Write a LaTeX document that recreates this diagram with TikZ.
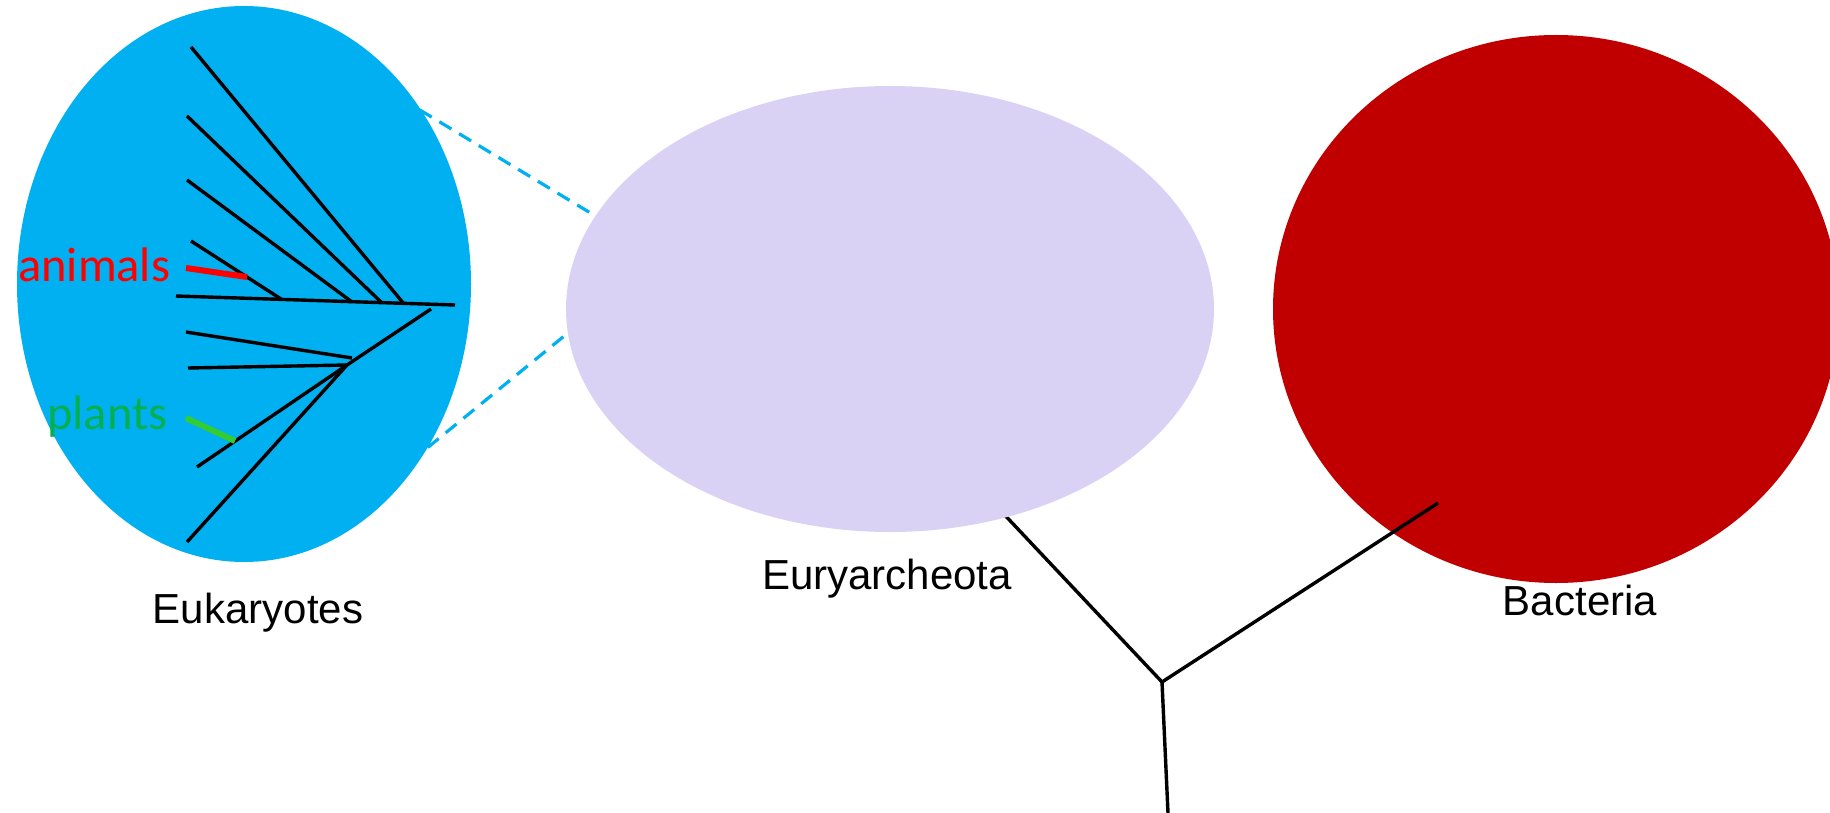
\documentclass[tikz,border=0pt]{standalone}
\usepackage{fontspec}
\setmainfont{Liberation Sans}
\newfontfamily\labelfont{Carlito}
\usetikzlibrary{shapes.geometric}

\definecolor{eukblue}{RGB}{0,176,240}
\definecolor{archlilac}{RGB}{217,210,245}
\definecolor{bactred}{RGB}{192,0,0}
\definecolor{animalred}{RGB}{255,0,0}
\definecolor{plantgreen}{RGB}{0,176,80}
\definecolor{plantline}{RGB}{51,204,51}

\tikzset{
  bubble/.style={ellipse, draw=none, inner sep=0pt},
  branch/.style={line width=3.4pt, black},
  mark line/.style={line width=6pt},
  zoomline/.style={line width=3.2pt, eukblue, dash pattern=on 14pt off 9pt},
  caption/.style={anchor=base, inner sep=0pt, font=\fontsize{42}{50}\selectfont},
  group/.style={anchor=base west, inner sep=0pt, font=\labelfont\fontsize{48.5}{56}\selectfont},
}

\begin{document}
\begin{tikzpicture}[x=1pt,y=-1pt]
\useasboundingbox (0,0) rectangle (1830,813);

% zoom lines from the eukaryote bubble to the archaeal bubble (drawn first, under the bubbles)
\coordinate (zt1) at (400,98);
\coordinate (zt2) at (622,232);
\coordinate (zb1) at (410,462);
\coordinate (zb2) at (585,319);
\draw[zoomline] (zt1) -- (zt2);
\draw[zoomline] (zb1) -- (zb2);

% deep tree: junction and its three arms
\coordinate (J) at (1162,682);
\coordinate (toArch) at (1000,510);
\coordinate (toBact) at (1438,503);
\coordinate (root) at (1168,813);
\draw[branch] (J) -- (toArch);

% the three domains
\node[bubble, fill=eukblue, minimum width=454pt, minimum height=556pt] (euk) at (244,284) {};
\node[bubble, fill=archlilac, minimum width=648pt, minimum height=446pt] (arch) at (890,309) {};
\node[bubble, fill=bactred, minimum width=566pt, minimum height=548pt] (bact) at (1556,309) {};

\draw[branch] (toBact) -- (J) -- (root);

% eukaryote subtree
\coordinate (m1) at (176,296);
\coordinate (m2) at (455,305);
\coordinate (b1s) at (191,47);   \coordinate (b1e) at (404,304);
\coordinate (b2s) at (187,116);  \coordinate (b2e) at (382,303);
\coordinate (b3s) at (187,180);  \coordinate (b3e) at (352,302);
\coordinate (b4s) at (191,241);  \coordinate (b4e) at (281,299);
\coordinate (c1) at (431,309);
\coordinate (j) at (347,365);
\coordinate (c2) at (197,467);
\coordinate (d2) at (187,542);
\coordinate (e1) at (186,332);   \coordinate (e2) at (352,358);
\coordinate (f1) at (188,368);

\draw[branch] (m1) -- (m2);
\draw[branch] (b1s) -- (b1e);
\draw[branch] (b2s) -- (b2e);
\draw[branch] (b3s) -- (b3e);
\draw[branch] (b4s) -- (b4e);
\draw[branch] (c1) -- (j) -- (c2);
\draw[branch] (j) -- (d2);
\draw[branch] (e1) -- (e2);
\draw[branch] (f1) -- (j);

% highlighted lineages
\coordinate (an1) at (186,268);
\coordinate (an2) at (247,277);
\coordinate (pl1) at (186,418);
\coordinate (pl2) at (235,441);
\draw[mark line, animalred] (an1) -- (an2);
\draw[mark line, plantline] (pl1) -- (pl2);

\node[group, text=animalred] (animals) at (18,281) {animals};
\node[group, text=plantgreen] (plants) at (47,429) {plants};

% domain names
\node[caption] (eukname) at (258,623) {Eukaryotes};
\node[caption] (archname) at (887,589) {Euryarcheota};
\node[caption] (bactname) at (1580,615) {Bacteria};
\end{tikzpicture}
\end{document}
